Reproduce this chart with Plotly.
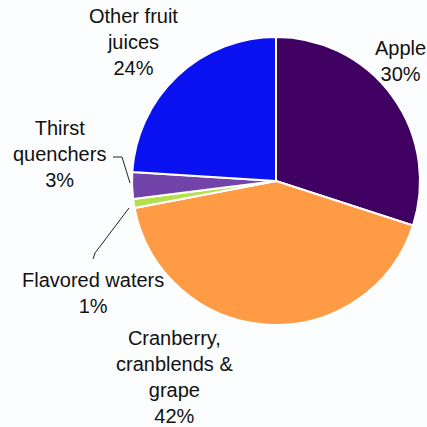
import plotly.graph_objects as go

categories = ["Apple", "Cranberry, cranblends & grape", "Flavored waters", "Thirst quenchers", "Other fruit juices"]
values = [30, 42, 1, 3, 24]
colors = ["#3f0062", "#ff9a45", "#b4e050", "#7243a8", "#0a12f2"]
label_texts = ["Apple<br>30%", "Cranberry,<br>cranblends &amp;<br>grape<br>42%",
               "Flavored waters<br>1%", "Thirst<br>quenchers<br>3%", "Other fruit<br>juices<br>24%"]

W = H = 427
cx, cy, r = 276, 181, 144

fig = go.Figure(go.Pie(
    labels=categories, values=values, sort=False, direction="clockwise", rotation=0,
    marker=dict(colors=colors, line=dict(color="white", width=2)),
    textinfo="none", hoverinfo="label+percent", showlegend=False,
    domain=dict(x=[(cx - r) / W, (cx + r) / W], y=[1 - (cy + r) / H, 1 - (cy - r) / H]),
))

# label anchor positions (pixel centres, top-left origin)
label_pos = [(400, 61), (174, 377), (93, 293), (60, 154), (133, 42)]
for txt, (x, y) in zip(label_texts, label_pos):
    fig.add_annotation(x=x / W, y=1 - y / H, xref="paper", yref="paper", text=txt,
                       showarrow=False, xanchor="center", yanchor="middle",
                       font=dict(family="Liberation Sans, Arial", size=20, color="#111111"))

def pline(pts):
    path = "M " + " L ".join(f"{px / W},{1 - py / H}" for px, py in pts)
    fig.add_shape(type="path", path=path, xref="paper", yref="paper",
                  line=dict(color="#222222", width=1))

pline([(113, 157), (122, 157), (130, 183)])
pline([(129, 208), (95, 253), (93, 259)])

fig.update_layout(width=W, height=H, margin=dict(l=0, r=0, t=0, b=0),
                  paper_bgcolor="#fcfdfe", plot_bgcolor="#fcfdfe")
fig.write_html("out.html", config={"displayModeBar": False},
               post_script="document.body.style.margin='0';document.body.style.overflow='hidden';")
